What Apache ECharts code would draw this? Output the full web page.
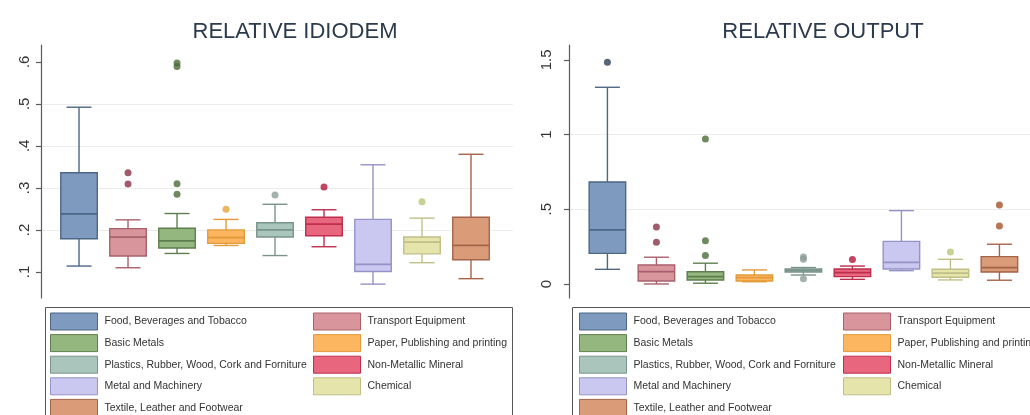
<!DOCTYPE html>
<html><head><meta charset="utf-8">
<script src="https://cdn.jsdelivr.net/npm/echarts@6/dist/echarts.min.js"></script>
<style>html,body{margin:0;padding:0;background:#fff}#c{width:1030px;height:415px}</style>
</head><body><div id="c"></div>
<script>
// ---- data ----
const categories = [
  'Food, Beverages and Tobacco',
  'Transport Equipment',
  'Basic Metals',
  'Paper, Publishing and printing',
  'Plastics, Rubber, Wood, Cork and Forniture',
  'Non-Metallic Mineral',
  'Metal and Machinery',
  'Chemical',
  'Textile, Leather and Footwear'
];
// [lower whisker, Q1, median, Q3, upper whisker]
const idiodemStats = [
  [0.114, 0.179, 0.238, 0.336, 0.492],
  [0.110, 0.138, 0.183, 0.203, 0.224],
  [0.144, 0.157, 0.174, 0.204, 0.239],
  [0.163, 0.168, 0.182, 0.200, 0.225],
  [0.139, 0.183, 0.200, 0.217, 0.261],
  [0.160, 0.186, 0.214, 0.230, 0.248],
  [0.071, 0.101, 0.118, 0.225, 0.355],
  [0.122, 0.143, 0.171, 0.183, 0.228],
  [0.084, 0.129, 0.163, 0.230, 0.380]
];
const idiodemOutliers = [
  [], [0.336, 0.309], [0.597, 0.589, 0.310, 0.285], [0.249], [0.283], [0.302], [], [0.267], []
];
const outputStats = [
  [0.098, 0.205, 0.362, 0.683, 1.317],
  [0.000, 0.020, 0.082, 0.127, 0.179],
  [0.005, 0.027, 0.049, 0.082, 0.139],
  [0.015, 0.020, 0.042, 0.060, 0.094],
  [0.060, 0.080, 0.090, 0.100, 0.110],
  [0.031, 0.049, 0.076, 0.100, 0.120],
  [0.089, 0.100, 0.145, 0.285, 0.491],
  [0.027, 0.045, 0.072, 0.098, 0.165],
  [0.025, 0.080, 0.110, 0.183, 0.266]
];
const outputOutliers = [
  [1.485], [0.382, 0.279], [0.971, 0.290, 0.190], [], [0.180, 0.165, 0.035], [0.163], [], [0.214], [0.529, 0.388]
];
const idiodemTicks = [0.1, 0.2, 0.3, 0.4, 0.5, 0.6];
const outputTicks = [0, 0.5, 1, 1.5];
const titles = ['RELATIVE IDIODEM', 'RELATIVE OUTPUT'];

// ---- styles ----
const fills   = ['#7e9bbf', '#d9959c', '#94b67f', '#fdb660', '#a9c5bc', '#e9667f', '#cac8f0', '#e5e4aa', '#da9b79'];
const borders = ['#4d6685', '#a9606b', '#5e7f4d', '#e39a3a', '#7a948b', '#bd2e4d', '#9692c6', '#c0bf88', '#a5644a'];
const dots    = ['#2d3f58', '#8a3347', '#4d6b3a', '#e8a23a', '#8d9d98', '#b4163a', '#8e8abd', '#bcc47a', '#a8502a'];
const BOX_W = 0.745, CAP_W = 0.51;
const FONT = 'Liberation Sans';

function renderBox(fill, border) {
  return function (params, api) {
    const x = api.value(0);
    const pLo = api.coord([x, api.value(1)]);
    const pQ1 = api.coord([x, api.value(2)]);
    const pMed = api.coord([x, api.value(3)]);
    const pQ3 = api.coord([x, api.value(4)]);
    const pHi = api.coord([x, api.value(5)]);
    const bw = api.size([BOX_W, 0])[0];
    const cw = api.size([CAP_W, 0])[0];
    const cx = pMed[0];
    const ls = { stroke: border, lineWidth: 1.4 };
    return { type: 'group', children: [
      { type: 'line', shape: { x1: cx, y1: pQ3[1], x2: cx, y2: pHi[1] }, style: ls },
      { type: 'line', shape: { x1: cx, y1: pQ1[1], x2: cx, y2: pLo[1] }, style: ls },
      { type: 'line', shape: { x1: cx - cw / 2, y1: pHi[1], x2: cx + cw / 2, y2: pHi[1] }, style: ls },
      { type: 'line', shape: { x1: cx - cw / 2, y1: pLo[1], x2: cx + cw / 2, y2: pLo[1] }, style: ls },
      { type: 'rect', shape: { x: cx - bw / 2, y: pQ3[1], width: bw, height: pQ1[1] - pQ3[1] },
        style: { fill: fill, stroke: border, lineWidth: 1.4 } },
      { type: 'line', shape: { x1: cx - bw / 2, y1: pMed[1], x2: cx + bw / 2, y2: pMed[1] },
        style: { stroke: border, lineWidth: 1.8 } }
    ]};
  };
}

function fmt(v) {
  return String(+(+v).toFixed(2)).replace(/^0\./, '.');
}

const gridDefs = [
  { left: 41, width: 472, top: 45, bottom: 117, xmin: 0.224, xmax: 9.857, ymin: 0.038, ymax: 0.640, split: 5, ticks: idiodemTicks, margin: 9, titleX: 295,
    boxX: 45, boxW: 467, col1: 50, col2: 313 },
  { left: 569, right: 0, top: 45, bottom: 117, xmin: 0.216, xmax: 9.624, ymin: -0.094, ymax: 1.600, split: 3, ticks: outputTicks, margin: 15, titleX: 823,
    boxX: 572, boxW: 500, col1: 579, col2: 843 }
];

const grids = [], xAxes = [], yAxes = [], series = [], titleOpts = [], legends = [], graphics = [];
gridDefs.forEach((g, gi) => {
  const grid = { left: g.left, top: g.top, bottom: g.bottom };
  if (g.width != null) grid.width = g.width; else grid.right = g.right;
  grids.push(grid);
  xAxes.push({ type: 'value', gridIndex: gi, min: g.xmin, max: g.xmax, show: false });
  yAxes.push({
    type: 'value', gridIndex: gi, min: g.ymin, max: g.ymax, splitNumber: g.split,
    axisLine: { show: true, lineStyle: { color: '#5a5a5a', width: 1.2 } },
    axisTick: { show: true, length: 5, customValues: g.ticks, lineStyle: { color: '#5a5a5a', width: 1.2 } },
    axisLabel: { customValues: g.ticks, rotate: 90, margin: g.margin, fontSize: 15, color: '#333', fontFamily: FONT, formatter: fmt },
    splitLine: { show: true, customValues: g.ticks, showMinLine: false, showMaxLine: false, lineStyle: { color: '#ececec', width: 1 } }
  });
  titleOpts.push({
    text: titles[gi], left: g.titleX, top: 21, textAlign: 'center', padding: 0,
    textStyle: { fontSize: 22, fontWeight: 'normal', color: '#2c3a4e', fontFamily: FONT }
  });
  const stats = gi === 0 ? idiodemStats : outputStats;
  const outs = gi === 0 ? idiodemOutliers : outputOutliers;
  categories.forEach((name, i) => {
    series.push({
      type: 'custom', name: name, xAxisIndex: gi, yAxisIndex: gi,
      renderItem: renderBox(fills[i], borders[i]),
      itemStyle: { color: fills[i], borderColor: borders[i] },
      encode: { x: 0, y: [1, 2, 3, 4, 5] },
      data: [[i + 1].concat(stats[i])],
      silent: true
    });
    if (outs[i].length) {
      series.push({
        type: 'scatter', name: name, xAxisIndex: gi, yAxisIndex: gi,
        symbolSize: 7, itemStyle: { color: dots[i] }, silent: true,
        data: outs[i].map(v => [i + 1, v])
      });
    }
  });
  // legend: two vertical columns inside a framed box
  [0, 1].forEach(col => {
    legends.push({
      left: col === 0 ? g.col1 : g.col2, top: 312.5, height: 200, orient: 'vertical', padding: 0,
      itemGap: 3.6, itemWidth: 47, itemHeight: 17, selectedMode: false,
      textStyle: { fontSize: 10.5, color: '#333', fontFamily: FONT, padding: [0, 0, 0, 2] },
      data: categories.map((n, i) => ({ n, i })).filter(o => o.i % 2 === col).map(o => ({
        name: o.n, icon: 'rect',
        itemStyle: { color: fills[o.i], borderColor: borders[o.i], borderWidth: 1 }
      }))
    });
  });
  graphics.push({
    type: 'rect', left: g.boxX, top: 307, z: -1, silent: true,
    shape: { width: g.boxW, height: 130 },
    style: { fill: '#fff', stroke: '#555', lineWidth: 1 }
  });
});

const chart = echarts.init(document.getElementById('c'), null, { renderer: 'canvas' });
chart.setOption({
  animation: false,
  backgroundColor: '#fff',
  title: titleOpts,
  legend: legends,
  graphic: graphics,
  grid: grids,
  xAxis: xAxes,
  yAxis: yAxes,
  series: series
});
</script>
</body></html>
